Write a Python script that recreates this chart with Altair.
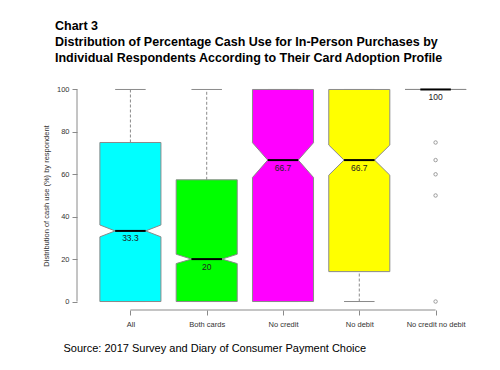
import altair as alt
import pandas as pd

# ---- data ----
categories = ["All", "Both cards", "No credit", "No debit", "No credit no debit"]
lower_whisker = [0, 0, 0, 0, 100]
q1 = [0, 0, 0, 14.1, 100]
medians = [33.3, 20, 66.7, 66.7, 100]
q3 = [75, 57.4, 100, 100, 100]
upper_whisker = [100, 100, 100, 100, 100]
notch_lo = [30.5, 17.9, 58.5, 59.6, 100]
notch_hi = [36.1, 22.3, 74.9, 73.8, 100]
median_labels = ["33.3", "20", "66.7", "66.7", "100"]
outlier_cat = ["No credit no debit"] * 5
outlier_values = [75, 66.7, 60, 50, 0]
fill_colors = ["#00FFFF", "#00FF00", "#FF00FF", "#FFFF00", "#FFFFFF"]
y_ticks = [0, 10, 20, 30, 40, 50, 60, 70, 80, 90, 100]

# ---- geometry (R boxplot style: boxwex 0.8, notch half width) ----
HW = 0.4
NW = 0.2
W, H = 412, 229
FONT = "Liberation Sans"
GREY = "#8a8a8a"

pos = {c: i + 1 for i, c in enumerate(categories)}

box_rows = []
for i, c in enumerate(categories):
    p = i + 1
    pts = [(q1[i], HW), (notch_lo[i], HW), (medians[i], NW), (notch_hi[i], HW), (q3[i], HW)]
    for k, (yv, hw) in enumerate(pts):
        box_rows.append({"cat": c, "k": k, "y": yv, "xl": p - hw, "xr": p + hw})
box_df = pd.DataFrame(box_rows)

med_df = pd.DataFrame({
    "cat": categories,
    "xl": [pos[c] - NW for c in categories],
    "xr": [pos[c] + NW for c in categories],
    "y": medians,
    "p": [pos[c] for c in categories],
    "label": median_labels,
})

whisk_rows, cap_rows = [], []
for i, c in enumerate(categories):
    p = i + 1
    if q3[i] < upper_whisker[i]:
        whisk_rows.append({"x": p, "y": q3[i], "y2": upper_whisker[i]})
    if q1[i] > lower_whisker[i]:
        whisk_rows.append({"x": p, "y": lower_whisker[i], "y2": q1[i]})
    for v in (lower_whisker[i], upper_whisker[i]):
        cap_rows.append({"xl": p - NW, "xr": p + NW, "y": v})
whisk_df = pd.DataFrame(whisk_rows)
cap_df = pd.DataFrame(cap_rows)

out_df = pd.DataFrame({"x": [pos[c] for c in outlier_cat], "y": outlier_values})

xscale = alt.Scale(domain=[0.3, 5.7], nice=False, zero=False)
yscale = alt.Scale(domain=[-4, 104], nice=False, zero=False)

label_expr = "[" + ",".join("'" + c + "'" for c in categories) + "][datum.value - 1]"

xaxis = alt.Axis(
    values=list(range(1, len(categories) + 1)), labelExpr=label_expr, grid=False, domain=False,
    tickColor=GREY, tickSize=5, labelFont=FONT, labelFontSize=7.5, labelColor="#333",
    labelPadding=5, title="Source: 2017 Survey and Diary of Consumer Payment Choice",
    titleX=-14, titleY=41.5, titleAlign="left", titleBaseline="alphabetic", titleFont=FONT,
    titleFontSize=11, titleFontWeight="normal", titleColor="black", labelFlush=False,
)
yaxis = alt.Axis(
    values=y_ticks, grid=False, domain=False, tickColor=GREY, tickSize=5, labelFont=FONT,
    labelFontSize=7.5, labelColor="#333", labelPadding=3,
    title="Distribution of cash use (%) by respondent", titleFont=FONT, titleFontSize=7.5,
    titleFontWeight="normal", titleColor="#333", titleAngle=-90, titleX=-31, titleY=H / 2,
    titleAlign="center", titleBaseline="middle",
)

boxes = alt.Chart(box_df).mark_area(orient="horizontal", stroke=GREY, strokeWidth=1, fillOpacity=1).encode(
    y=alt.Y("y:Q", scale=yscale, axis=yaxis),
    x=alt.X("xl:Q", scale=xscale, axis=xaxis, stack=None),
    x2="xr:Q",
    color=alt.Color("cat:N", scale=alt.Scale(domain=categories, range=fill_colors), legend=None),
)

whiskers = alt.Chart(whisk_df).mark_rule(color=GREY, strokeDash=[3, 2], strokeWidth=1).encode(
    x=alt.X("x:Q", scale=xscale), y=alt.Y("y:Q", scale=yscale), y2="y2:Q"
)
caps = alt.Chart(cap_df).mark_rule(color=GREY, strokeWidth=1).encode(
    x=alt.X("xl:Q", scale=xscale), x2="xr:Q", y=alt.Y("y:Q", scale=yscale)
)
med_lines = alt.Chart(med_df).mark_rule(color="black", strokeWidth=2).encode(
    x=alt.X("xl:Q", scale=xscale), x2="xr:Q", y=alt.Y("y:Q", scale=yscale)
)
med_text = alt.Chart(med_df).mark_text(font=FONT, fontSize=8.5, color="#222", baseline="top", dy=3.5).encode(
    x=alt.X("p:Q", scale=xscale), y=alt.Y("y:Q", scale=yscale), text="label:N"
)
outliers = alt.Chart(out_df).mark_point(shape="circle", filled=False, size=12, color="#555", strokeWidth=0.8).encode(
    x=alt.X("x:Q", scale=xscale), y=alt.Y("y:Q", scale=yscale)
)

x_line = alt.Chart(pd.DataFrame({"a": [1], "b": [len(categories)]})).mark_rule(color=GREY).encode(
    x=alt.X("a:Q", scale=xscale), x2="b:Q", y=alt.value(H)
)
y_line = alt.Chart(pd.DataFrame({"a": [y_ticks[0]], "b": [y_ticks[-1]]})).mark_rule(color=GREY).encode(
    y=alt.Y("a:Q", scale=yscale), y2="b:Q", x=alt.value(0)
)

chart = alt.layer(whiskers, caps, boxes, med_lines, med_text, outliers, x_line, y_line).properties(
    width=W, height=H,
    autosize=alt.AutoSizeParams(type="none"),
    padding={"left": 69, "top": 73, "right": 2, "bottom": 50},
    title=alt.TitleParams(
        text=["Chart 3",
              "Distribution of Percentage Cash Use for In-Person Purchases by",
              "Individual Respondents According to Their Card Adoption Profile"],
        anchor="start", frame="group", font=FONT, fontSize=12.5, fontWeight="bold",
        lineHeight=16, dx=-22, offset=17, color="black",
    ),
).configure_view(stroke=None)

chart.save("out.html", embed_options={"renderer": "svg", "actions": False})
